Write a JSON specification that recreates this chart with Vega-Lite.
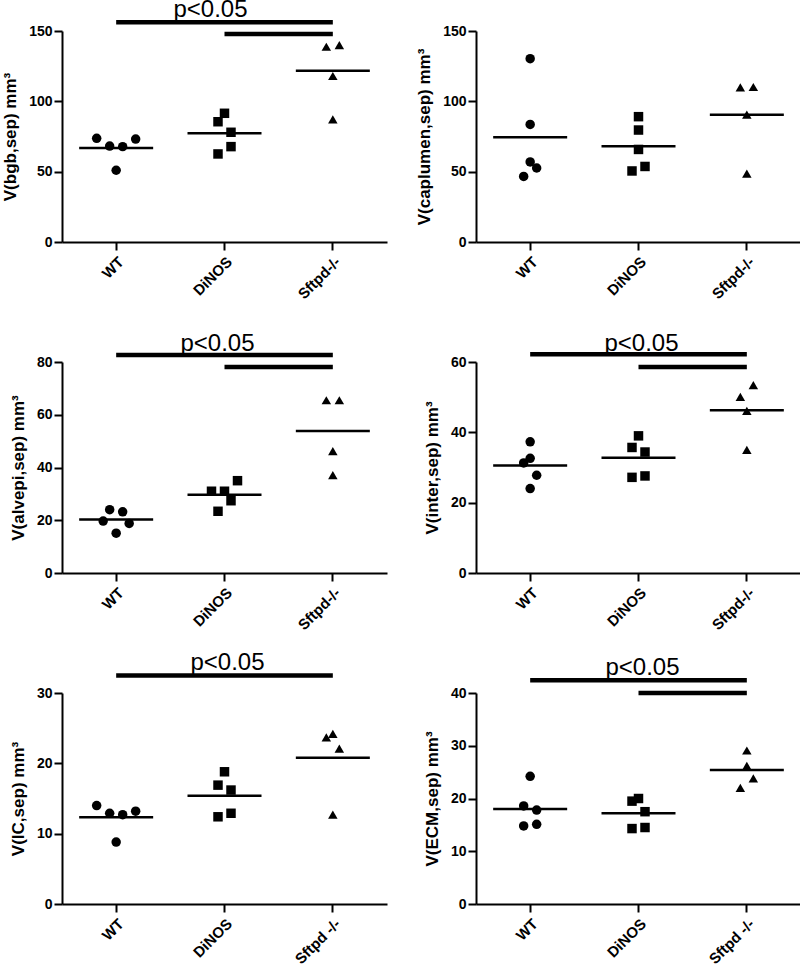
{
"$schema":"https://vega.github.io/schema/vega-lite/v6.json",
"padding":{"left":1,"top":-2,"right":0,"bottom":0},
"bounds":"flush",
"columns":2,
"spacing":{"row":120,"column":89},
"datasets":{
"pts":[
{"p":"bgb","g":"WT","s":-3,"v":73.7},{"p":"bgb","g":"WT","s":-1,"v":68.2},{"p":"bgb","g":"WT","s":1,"v":67.8},{"p":"bgb","g":"WT","s":3,"v":73.2},{"p":"bgb","g":"WT","s":0,"v":51.0},
{"p":"bgb","g":"DiNOS","s":-1,"v":85.5},{"p":"bgb","g":"DiNOS","s":0,"v":91.5},{"p":"bgb","g":"DiNOS","s":1,"v":78.0},{"p":"bgb","g":"DiNOS","s":1,"v":67.8},{"p":"bgb","g":"DiNOS","s":-1,"v":62.6},
{"p":"bgb","g":"Sftpd-/-","s":-1,"v":138.8},{"p":"bgb","g":"Sftpd-/-","s":1,"v":140.0},{"p":"bgb","g":"Sftpd-/-","s":0,"v":118.0},{"p":"bgb","g":"Sftpd-/-","s":0,"v":87.2},
{"p":"cap","g":"WT","s":0,"v":130.3},{"p":"cap","g":"WT","s":0,"v":83.6},{"p":"cap","g":"WT","s":0,"v":56.9},{"p":"cap","g":"WT","s":1,"v":52.6},{"p":"cap","g":"WT","s":-1,"v":46.6},
{"p":"cap","g":"DiNOS","s":0,"v":89.1},{"p":"cap","g":"DiNOS","s":0,"v":79.6},{"p":"cap","g":"DiNOS","s":0,"v":65.8},{"p":"cap","g":"DiNOS","s":1,"v":53.7},{"p":"cap","g":"DiNOS","s":-1,"v":50.5},
{"p":"cap","g":"Sftpd-/-","s":-1,"v":109.9},{"p":"cap","g":"Sftpd-/-","s":1,"v":110.2},{"p":"cap","g":"Sftpd-/-","s":0,"v":90.5},{"p":"cap","g":"Sftpd-/-","s":0,"v":48.6},
{"p":"alv","g":"WT","s":-1,"v":24.0},{"p":"alv","g":"WT","s":1,"v":23.2},{"p":"alv","g":"WT","s":-2,"v":19.7},{"p":"alv","g":"WT","s":2,"v":18.8},{"p":"alv","g":"WT","s":0,"v":15.1},
{"p":"alv","g":"DiNOS","s":-2,"v":31.0},{"p":"alv","g":"DiNOS","s":0,"v":31.0},{"p":"alv","g":"DiNOS","s":2,"v":35.0},{"p":"alv","g":"DiNOS","s":1,"v":27.4},{"p":"alv","g":"DiNOS","s":-1,"v":23.4},
{"p":"alv","g":"Sftpd-/-","s":-1,"v":65.5},{"p":"alv","g":"Sftpd-/-","s":1,"v":65.5},{"p":"alv","g":"Sftpd-/-","s":0,"v":46.2},{"p":"alv","g":"Sftpd-/-","s":0,"v":37.1},
{"p":"int","g":"WT","s":0,"v":37.3},{"p":"int","g":"WT","s":0,"v":32.6},{"p":"int","g":"WT","s":-1,"v":31.3},{"p":"int","g":"WT","s":1,"v":27.8},{"p":"int","g":"WT","s":0,"v":24.0},
{"p":"int","g":"DiNOS","s":0,"v":39.0},{"p":"int","g":"DiNOS","s":-1,"v":35.7},{"p":"int","g":"DiNOS","s":1,"v":34.4},{"p":"int","g":"DiNOS","s":-1,"v":27.2},{"p":"int","g":"DiNOS","s":1,"v":27.6},
{"p":"int","g":"Sftpd-/-","s":1,"v":53.4},{"p":"int","g":"Sftpd-/-","s":-1,"v":50.1},{"p":"int","g":"Sftpd-/-","s":0,"v":46.1},{"p":"int","g":"Sftpd-/-","s":0,"v":35.0},
{"p":"ic","g":"WT","s":-3,"v":14.0},{"p":"ic","g":"WT","s":-1,"v":12.9},{"p":"ic","g":"WT","s":1,"v":12.7},{"p":"ic","g":"WT","s":3,"v":13.2},{"p":"ic","g":"WT","s":0,"v":8.8},
{"p":"ic","g":"DiNOS","s":0,"v":18.8},{"p":"ic","g":"DiNOS","s":-1,"v":16.9},{"p":"ic","g":"DiNOS","s":1,"v":16.2},{"p":"ic","g":"DiNOS","s":-1,"v":12.4},{"p":"ic","g":"DiNOS","s":1,"v":12.9},
{"p":"ic","g":"Sftpd -/-","s":-1,"v":23.7},{"p":"ic","g":"Sftpd -/-","s":0,"v":24.2},{"p":"ic","g":"Sftpd -/-","s":1,"v":22.1},{"p":"ic","g":"Sftpd -/-","s":0,"v":12.7},
{"p":"ecm","g":"WT","s":0,"v":24.2},{"p":"ecm","g":"WT","s":-1,"v":18.6},{"p":"ecm","g":"WT","s":1,"v":17.8},{"p":"ecm","g":"WT","s":-1,"v":14.8},{"p":"ecm","g":"WT","s":1,"v":15.1},
{"p":"ecm","g":"DiNOS","s":-1,"v":19.5},{"p":"ecm","g":"DiNOS","s":0,"v":20.0},{"p":"ecm","g":"DiNOS","s":1,"v":17.5},{"p":"ecm","g":"DiNOS","s":-1,"v":14.3},{"p":"ecm","g":"DiNOS","s":1,"v":14.5},
{"p":"ecm","g":"Sftpd -/-","s":0,"v":29.1},{"p":"ecm","g":"Sftpd -/-","s":0,"v":26.2},{"p":"ecm","g":"Sftpd -/-","s":1,"v":23.8},{"p":"ecm","g":"Sftpd -/-","s":-1,"v":22.0}
],
"means":[
{"p":"bgb","g":"WT","v":66.8},{"p":"bgb","g":"DiNOS","v":77.3},{"p":"bgb","g":"Sftpd-/-","v":121.8},
{"p":"cap","g":"WT","v":74.4},{"p":"cap","g":"DiNOS","v":68.0},{"p":"cap","g":"Sftpd-/-","v":90.5},
{"p":"alv","g":"WT","v":20.3},{"p":"alv","g":"DiNOS","v":29.7},{"p":"alv","g":"Sftpd-/-","v":53.8},
{"p":"int","g":"WT","v":30.6},{"p":"int","g":"DiNOS","v":32.8},{"p":"int","g":"Sftpd-/-","v":46.3},
{"p":"ic","g":"WT","v":12.35},{"p":"ic","g":"DiNOS","v":15.4},{"p":"ic","g":"Sftpd -/-","v":20.8},
{"p":"ecm","g":"WT","v":18.0},{"p":"ecm","g":"DiNOS","v":17.2},{"p":"ecm","g":"Sftpd -/-","v":25.4}
],
"sig":[
{"p":"bgb","g":"WT","g2":"Sftpd-/-","v":156.2},{"p":"bgb","g":"DiNOS","g2":"Sftpd-/-","v":147.9},
{"p":"alv","g":"WT","g2":"Sftpd-/-","v":82.7},{"p":"alv","g":"DiNOS","g2":"Sftpd-/-","v":78.1},
{"p":"int","g":"WT","g2":"Sftpd-/-","v":62.2},{"p":"int","g":"DiNOS","g2":"Sftpd-/-","v":58.6},
{"p":"ic","g":"WT","g2":"Sftpd -/-","v":32.5},
{"p":"ecm","g":"WT","g2":"Sftpd -/-","v":42.4},{"p":"ecm","g":"DiNOS","g2":"Sftpd -/-","v":40.0}
],
"ptxt":[
{"p":"bgb","g":"DiNOS","t":"p<0.05","v":159.7},
{"p":"alv","g":"DiNOS","t":"p<0.05","v":84.1},
{"p":"int","g":"DiNOS","t":"p<0.05","v":63.1},
{"p":"ic","g":"DiNOS","t":"p<0.05","v":33.2},
{"p":"ecm","g":"DiNOS","t":"p<0.05","v":43.4}
]
},
"concat":[
{"width":325,"height":211,
"encoding":{
"x":{"field":"g","type":"nominal","title":null,"scale":{"domain":["WT","DiNOS","Sftpd-/-"],"paddingInner":0.58,"paddingOuter":0.29}},
"y":{"field":"v","type":"quantitative","title":"V(bgb,sep) mm³","scale":{"domain":[0,150],"nice":false},"axis":{"values":[0,50,100,150]}}},
"layer":[
{"data":{"name":"pts"},"transform":[{"filter":"datum.p==='bgb'"}],"mark":{"type":"point","filled":true,"size":90,"opacity":1,"color":"black"},
"encoding":{"xOffset":{"field":"s","type":"ordinal","scale":{"domain":[-3,-2,-1,0,1,2,3]}},"shape":{"field":"g","type":"nominal","scale":{"domain":["WT","DiNOS","Sftpd-/-","Sftpd -/-"],"range":["circle","square","triangle-up","triangle-up"]},"legend":null}}},
{"data":{"name":"means"},"transform":[{"filter":"datum.p==='bgb'"}],"mark":{"type":"tick","size":74,"thickness":2.5,"opacity":1,"color":"black"},"encoding":{}},
{"data":{"name":"sig"},"transform":[{"filter":"datum.p==='bgb'"}],"mark":{"type":"rule","strokeWidth":4.5,"color":"black"},"encoding":{"x2":{"field":"g2"}}},
{"data":{"name":"ptxt"},"transform":[{"filter":"datum.p==='bgb'"}],"mark":{"type":"text","fontSize":24,"baseline":"alphabetic","dx":-14,"color":"black"},"encoding":{"text":{"field":"t"}}}
]},
{"width":325,"height":211,
"encoding":{
"x":{"field":"g","type":"nominal","title":null,"scale":{"domain":["WT","DiNOS","Sftpd-/-"],"paddingInner":0.58,"paddingOuter":0.29}},
"y":{"field":"v","type":"quantitative","title":"V(caplumen,sep) mm³","scale":{"domain":[0,150],"nice":false},"axis":{"values":[0,50,100,150]}}},
"layer":[
{"data":{"name":"pts"},"transform":[{"filter":"datum.p==='cap'"}],"mark":{"type":"point","filled":true,"size":90,"opacity":1,"color":"black"},
"encoding":{"xOffset":{"field":"s","type":"ordinal","scale":{"domain":[-3,-2,-1,0,1,2,3]}},"shape":{"field":"g","type":"nominal","scale":{"domain":["WT","DiNOS","Sftpd-/-","Sftpd -/-"],"range":["circle","square","triangle-up","triangle-up"]},"legend":null}}},
{"data":{"name":"means"},"transform":[{"filter":"datum.p==='cap'"}],"mark":{"type":"tick","size":74,"thickness":2.5,"opacity":1,"color":"black"},"encoding":{}}
]},
{"width":325,"height":211,
"encoding":{
"x":{"field":"g","type":"nominal","title":null,"scale":{"domain":["WT","DiNOS","Sftpd-/-"],"paddingInner":0.58,"paddingOuter":0.29}},
"y":{"field":"v","type":"quantitative","title":"V(alvepi,sep) mm³","scale":{"domain":[0,80],"nice":false},"axis":{"values":[0,20,40,60,80]}}},
"layer":[
{"data":{"name":"pts"},"transform":[{"filter":"datum.p==='alv'"}],"mark":{"type":"point","filled":true,"size":90,"opacity":1,"color":"black"},
"encoding":{"xOffset":{"field":"s","type":"ordinal","scale":{"domain":[-3,-2,-1,0,1,2,3]}},"shape":{"field":"g","type":"nominal","scale":{"domain":["WT","DiNOS","Sftpd-/-","Sftpd -/-"],"range":["circle","square","triangle-up","triangle-up"]},"legend":null}}},
{"data":{"name":"means"},"transform":[{"filter":"datum.p==='alv'"}],"mark":{"type":"tick","size":74,"thickness":2.5,"opacity":1,"color":"black"},"encoding":{}},
{"data":{"name":"sig"},"transform":[{"filter":"datum.p==='alv'"}],"mark":{"type":"rule","strokeWidth":4.5,"color":"black"},"encoding":{"x2":{"field":"g2"}}},
{"data":{"name":"ptxt"},"transform":[{"filter":"datum.p==='alv'"}],"mark":{"type":"text","fontSize":24,"baseline":"alphabetic","dx":-7,"color":"black"},"encoding":{"text":{"field":"t"}}}
]},
{"width":325,"height":211,
"encoding":{
"x":{"field":"g","type":"nominal","title":null,"scale":{"domain":["WT","DiNOS","Sftpd-/-"],"paddingInner":0.58,"paddingOuter":0.29}},
"y":{"field":"v","type":"quantitative","title":"V(inter,sep) mm³","scale":{"domain":[0,60],"nice":false},"axis":{"values":[0,20,40,60]}}},
"layer":[
{"data":{"name":"pts"},"transform":[{"filter":"datum.p==='int'"}],"mark":{"type":"point","filled":true,"size":90,"opacity":1,"color":"black"},
"encoding":{"xOffset":{"field":"s","type":"ordinal","scale":{"domain":[-3,-2,-1,0,1,2,3]}},"shape":{"field":"g","type":"nominal","scale":{"domain":["WT","DiNOS","Sftpd-/-","Sftpd -/-"],"range":["circle","square","triangle-up","triangle-up"]},"legend":null}}},
{"data":{"name":"means"},"transform":[{"filter":"datum.p==='int'"}],"mark":{"type":"tick","size":74,"thickness":2.5,"opacity":1,"color":"black"},"encoding":{}},
{"data":{"name":"sig"},"transform":[{"filter":"datum.p==='int'"}],"mark":{"type":"rule","strokeWidth":4.5,"color":"black"},"encoding":{"x2":{"field":"g2"}}},
{"data":{"name":"ptxt"},"transform":[{"filter":"datum.p==='int'"}],"mark":{"type":"text","fontSize":24,"baseline":"alphabetic","dx":3,"color":"black"},"encoding":{"text":{"field":"t"}}}
]},
{"width":325,"height":211,
"encoding":{
"x":{"field":"g","type":"nominal","title":null,"scale":{"domain":["WT","DiNOS","Sftpd -/-"],"paddingInner":0.58,"paddingOuter":0.29}},
"y":{"field":"v","type":"quantitative","title":"V(IC,sep) mm³","scale":{"domain":[0,30],"nice":false},"axis":{"values":[0,10,20,30]}}},
"layer":[
{"data":{"name":"pts"},"transform":[{"filter":"datum.p==='ic'"}],"mark":{"type":"point","filled":true,"size":90,"opacity":1,"color":"black"},
"encoding":{"xOffset":{"field":"s","type":"ordinal","scale":{"domain":[-3,-2,-1,0,1,2,3]}},"shape":{"field":"g","type":"nominal","scale":{"domain":["WT","DiNOS","Sftpd-/-","Sftpd -/-"],"range":["circle","square","triangle-up","triangle-up"]},"legend":null}}},
{"data":{"name":"means"},"transform":[{"filter":"datum.p==='ic'"}],"mark":{"type":"tick","size":74,"thickness":2.5,"opacity":1,"color":"black"},"encoding":{}},
{"data":{"name":"sig"},"transform":[{"filter":"datum.p==='ic'"}],"mark":{"type":"rule","strokeWidth":4.5,"color":"black"},"encoding":{"x2":{"field":"g2"}}},
{"data":{"name":"ptxt"},"transform":[{"filter":"datum.p==='ic'"}],"mark":{"type":"text","fontSize":24,"baseline":"alphabetic","dx":3,"color":"black"},"encoding":{"text":{"field":"t"}}}
]},
{"width":325,"height":211,
"encoding":{
"x":{"field":"g","type":"nominal","title":null,"scale":{"domain":["WT","DiNOS","Sftpd -/-"],"paddingInner":0.58,"paddingOuter":0.29}},
"y":{"field":"v","type":"quantitative","title":"V(ECM,sep) mm³","scale":{"domain":[0,40],"nice":false},"axis":{"values":[0,10,20,30,40]}}},
"layer":[
{"data":{"name":"pts"},"transform":[{"filter":"datum.p==='ecm'"}],"mark":{"type":"point","filled":true,"size":90,"opacity":1,"color":"black"},
"encoding":{"xOffset":{"field":"s","type":"ordinal","scale":{"domain":[-3,-2,-1,0,1,2,3]}},"shape":{"field":"g","type":"nominal","scale":{"domain":["WT","DiNOS","Sftpd-/-","Sftpd -/-"],"range":["circle","square","triangle-up","triangle-up"]},"legend":null}}},
{"data":{"name":"means"},"transform":[{"filter":"datum.p==='ecm'"}],"mark":{"type":"tick","size":74,"thickness":2.5,"opacity":1,"color":"black"},"encoding":{}},
{"data":{"name":"sig"},"transform":[{"filter":"datum.p==='ecm'"}],"mark":{"type":"rule","strokeWidth":4.5,"color":"black"},"encoding":{"x2":{"field":"g2"}}},
{"data":{"name":"ptxt"},"transform":[{"filter":"datum.p==='ecm'"}],"mark":{"type":"text","fontSize":24,"baseline":"alphabetic","dx":4,"color":"black"},"encoding":{"text":{"field":"t"}}}
]}
],
"config":{
"font":"Liberation Sans",
"view":{"stroke":null},
"axis":{"grid":false,"domainColor":"black","domainWidth":2,"tickColor":"black","tickWidth":2,"tickSize":8,"labelColor":"black","labelFont":"Liberation Sans","labelFontWeight":"bold","titleColor":"black","titleFont":"Liberation Sans","titleFontSize":17,"titleFontWeight":"bold"},
"axisY":{"labelPadding":2,"titlePadding":9,"labelFontSize":14},
"axisX":{"labelAngle":-45,"labelPadding":4,"labelFontSize":15}
}
}
